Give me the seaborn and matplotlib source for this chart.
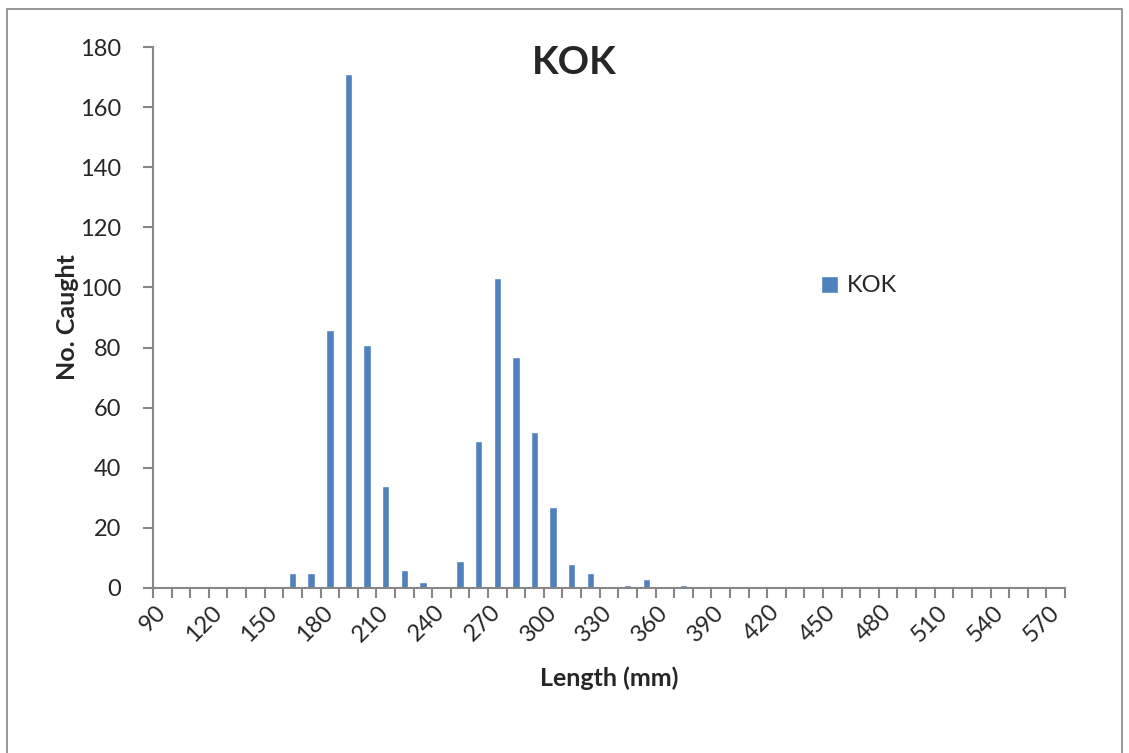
import numpy as np
import pandas as pd
import seaborn as sns
import matplotlib.pyplot as plt
from matplotlib.patches import Rectangle

# length classes (mm) and catch counts
lengths = list(range(90, 580, 10))
caught = [0, 0, 0, 0, 0, 0, 0, 5, 5, 86,
          171, 81, 34, 6, 2, 0, 9, 49, 103, 77,
          52, 27, 8, 5, 0, 1, 3, 0, 1, 0,
          0, 0, 0, 0, 0, 0, 0, 0, 0, 0,
          0, 0, 0, 0, 0, 0, 0, 0, 0]
species = 'KOK'
label_step = 3
y_ticks = list(range(0, 181, 20))

BAR_COLOR = '#4F81BD'
AXIS_GRAY = '#868686'

sns.set_style('white')
plt.rcParams['font.family'] = ['Lato', 'DejaVu Sans']

df = pd.DataFrame({'length': [str(v) for v in lengths], 'caught': caught,
                   'species': species})

W, H = 1129, 753
fig = plt.figure(figsize=(W / 100, H / 100), dpi=100)
ax = fig.add_axes([153 / W, 1 - 588 / H, (1065 - 153) / W, (588 - 47) / H])

sns.barplot(data=df, x='length', y='caught', hue='species',
            palette={species: BAR_COLOR}, width=0.4, ax=ax, saturation=1)

n = len(lengths)
ax.set_xlim(-0.5, n - 0.5)
ax.set_ylim(0, 180)
ax.set_yticks(y_ticks)
ax.set_yticklabels([str(v) for v in y_ticks], fontsize=17)

# labels every third class, tick marks at class boundaries
major = list(range(0, n, label_step))
ax.set_xticks(major)
ax.set_xticklabels([str(lengths[i]) for i in major], fontsize=17,
                   rotation=45, ha='right', va='center', rotation_mode='anchor')
ax.set_xticks(np.arange(n + 1) - 0.5, minor=True)
ax.tick_params(axis='x', which='major', length=0, pad=15)
ax.tick_params(axis='x', which='minor', length=7, width=1.5, color=AXIS_GRAY,
               direction='out', bottom=True)
ax.tick_params(axis='y', length=7, width=1.5, color=AXIS_GRAY, direction='out',
               left=True, pad=16)

for s in ['top', 'right']:
    ax.spines[s].set_visible(False)
for s in ['left', 'bottom']:
    ax.spines[s].set_color(AXIS_GRAY)
    ax.spines[s].set_linewidth(1.5)

ax.set_xlabel('Length (mm)', fontsize=18, fontweight='bold')
ax.set_ylabel('No. Caught', fontsize=18, fontweight='bold')
ax.xaxis.set_label_coords(0.5, -0.145)
ax.yaxis.set_label_coords(-0.081, 0.5)

fig.text(574 / W, 1 - 62 / H, species, fontsize=28, fontweight='bold',
         ha='center', va='center')

ax.legend(loc='center left', bbox_to_anchor=(821 / W, 1 - 286 / H),
          bbox_transform=fig.transFigure, frameon=False, fontsize=17,
          handlelength=0.7, handleheight=0.7, handletextpad=0.4,
          borderaxespad=0, borderpad=0)

fig.patches.append(Rectangle((7 / W, -0.05), (1122 - 7) / W, 1 - 9 / H + 0.05,
                             transform=fig.transFigure, fill=False,
                             edgecolor=AXIS_GRAY, linewidth=1.2))

plt.savefig('out.png', dpi=100)
